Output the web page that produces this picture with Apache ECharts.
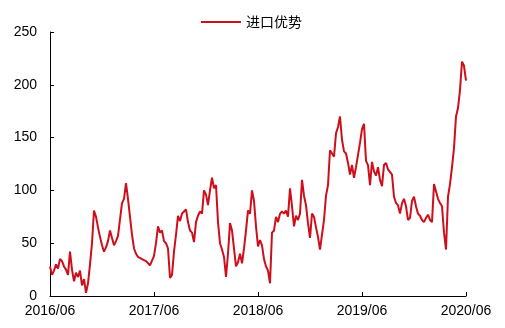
<!DOCTYPE html>
<html>
<head>
<meta charset="utf-8">
<script src="https://cdn.jsdelivr.net/npm/echarts@6/dist/echarts.min.js"></script>
<style>
  html,body{margin:0;padding:0;background:#fff;}
  #chart{width:505px;height:328px;}
</style>
</head>
<body>
<div id="chart"></div>
<script>
  // 进口优势, weekly, 2016/06 - 2020/06
  var seriesName = '进口优势';
  var startDate = new Date(2016, 5, 10);
  var weekCount = 209;
  var tickLabels = ['2016/06', '2017/06', '2018/06', '2019/06', '2020/06'];
  var values = [
    28, 20, 24, 30, 26, 35, 33, 28, 25, 20, 42, 25, 14, 22, 18, 24, 10, 16, 3, 12,
    30, 50, 81, 75, 65, 56, 48, 42, 46, 52, 62, 55, 48, 52, 57, 58, 88, 92, 107, 92,
    75, 58, 45, 40, 37, 36, 35, 36, 33, 32, 29, 30, 38, 50, 66, 60, 62, 52, 50, 45,
    17, 20, 42, 58, 76, 71, 78, 80, 82, 70, 62, 60, 51, 70, 76, 80, 78, 100, 96, 86,
    100, 112, 102, 105, 70, 50, 44, 37, 18, 40, 69, 62, 45, 28, 32, 40, 31, 45, 62, 81,
    78, 100, 90, 66, 47, 53, 48, 35, 28, 24, 12, 60, 62, 75, 70, 78, 80, 78, 81, 75,
    102, 85, 66, 76, 72, 78, 110, 95, 86, 69, 55, 78, 75, 65, 56, 44, 58, 72, 95, 105,
    138, 138, 132, 154, 160, 170, 148, 137, 135, 126, 115, 124, 112, 122, 122, 145, 158, 163, 128, 124,
    105, 127, 118, 114, 122, 110, 104, 124, 126, 120, 119, 115, 94, 88, 86, 78, 88, 92, 85, 72,
    74, 90, 94, 85, 78, 76, 72, 70, 74, 77, 72, 70, 106, 105, 92, 88, 85, 60, 44, 94,
    106, 122, 140, 170, 178, 195, 222, 218, 204
  ];

  var dates = [];
  for (var i = 0; i < weekCount; i++) {
    var d = new Date(startDate.getTime() + i * 7 * 86400000);
    var m = d.getMonth() + 1;
    dates.push(d.getFullYear() + '/' + (m < 10 ? '0' + m : m));
  }

  var myChart = echarts.init(document.getElementById('chart'));
  var font = 'Liberation Sans, Arial, sans-serif';
  var option = {
    animation: false,
    textStyle: { fontFamily: font },
    legend: {
      top: 10,
      left: 196,
      icon: 'rect',
      itemWidth: 40,
      itemHeight: 2,
      itemGap: 5,
      textStyle: { fontSize: 14, color: '#000', fontFamily: 'Noto Sans CJK SC' },
      data: [seriesName]
    },
    grid: { left: 50, right: 39, top: 32, bottom: 32 },
    xAxis: {
      type: 'category',
      data: dates,
      boundaryGap: false,
      axisLine: { lineStyle: { color: '#000', width: 1 } },
      axisTick: { inside: true, length: 4, interval: 51, lineStyle: { color: '#000' } },
      axisLabel: { interval: 51, color: '#000', fontSize: 14, margin: 8 },
      splitLine: { show: false }
    },
    yAxis: {
      type: 'value',
      min: 0,
      max: 250,
      interval: 50,
      axisLine: { show: true, lineStyle: { color: '#000', width: 1 } },
      axisTick: { show: true, inside: true, length: 4, lineStyle: { color: '#000' } },
      axisLabel: { color: '#000', fontSize: 14, margin: 13 },
      splitLine: { show: false }
    },
    series: [{
      name: seriesName,
      type: 'line',
      data: values,
      showSymbol: false,
      symbol: 'none',
      lineStyle: { color: '#cc0f1a', width: 2 },
      itemStyle: { color: '#cc0f1a' }
    }]
  };
  myChart.setOption(option);
</script>
</body>
</html>
